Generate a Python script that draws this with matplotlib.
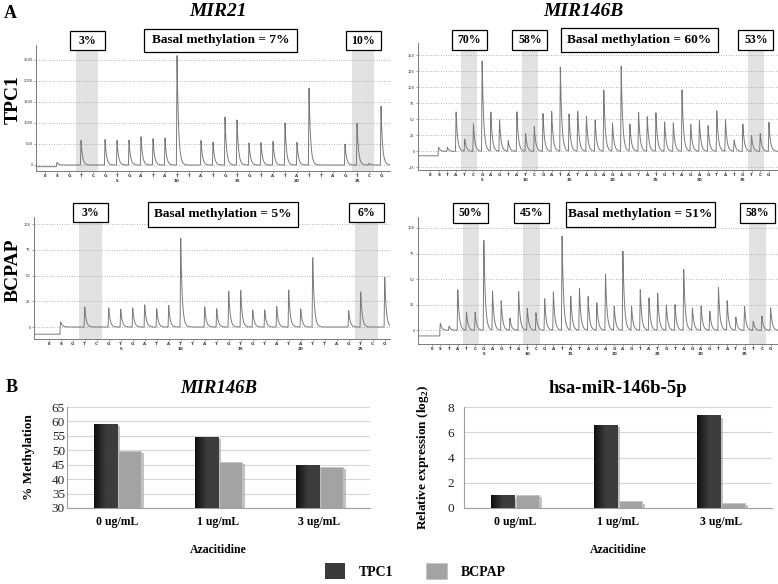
import numpy as np
import matplotlib
matplotlib.use('Agg')
import matplotlib.pyplot as plt
from matplotlib.patches import Rectangle
import matplotlib.patheffects as pe

W, H = 778, 584
SERIF = ['Liberation Serif', 'DejaVu Serif']
plt.rcParams['font.family'] = SERIF
plt.rcParams['mathtext.fontset'] = 'custom'
plt.rcParams['mathtext.rm'] = 'Liberation Serif'
plt.rcParams['mathtext.bf'] = 'Liberation Serif:bold'

# ---------------- data ----------------
mir21_disp = list("ESGTCGTGATATTATGTGTATATTAGTCG")
mir21_tpc1 = [0, 60, 0, 590, 0, 620, 590, 590, 685, 630, 645, 2650, 0, 590, 550,
              1140, 1090, 530, 530, 575, 1010, 535, 1870, 0, 0, 505, 1000, 40, 1420]
mir21_bcpap = [0, 5, 0, 19.8, 0, 18.8, 17.5, 19, 22, 18, 21, 87, 0, 20, 18,
               35, 36, 17, 17, 20, 36, 18, 69, 0, 0, 16, 35, 0, 49]
mir21_pre = {'TPC1': -40, 'BCPAP': -7}
mir21_cpg = [(3, 4), (26, 27)]
mir21_tpc1_cpg_pct = ['3%', '10%']
mir21_bcpap_cpg_pct = ['3%', '6%']
mir21_basal = {'TPC1': 'Basal methylation = 7%', 'BCPAP': 'Basal methylation = 5%'}

mir146b_disp = list("ESTATCGAGTATCGATATAGAGAGTATGTAGAGTATGTCG")
mir146b_tpc1 = [0, 6, 6, 63, 19, 43, 142, 62, 50, 17, 62, 28, 39, 60, 64, 133, 58, 63,
                56, 50, 97, 44, 134, 43, 62, 55, 60, 46, 45, 98, 43, 48, 40, 64, 50,
                18, 43, 25, 28, 46]
mir146b_bcpap = [0, 6.8, 4, 40, 18, 18, 89, 38, 29, 12, 38.6, 21.7, 17, 31, 38, 94, 34,
                 41, 33, 27, 56, 24, 78, 23, 40, 32, 37, 25, 25, 60, 22, 24, 19, 42,
                 29, 13, 24, 9, 14, 22]
mir146b_pre = {'TPC1': -7, 'BCPAP': -5.5}
mir146b_cpg = [(4, 5), (11, 12), (37, 38)]
mir146b_tpc1_cpg_pct = ['70%', '58%', '53%']
mir146b_bcpap_cpg_pct = ['50%', '45%', '58%']
mir146b_basal = {'TPC1': 'Basal methylation = 60%', 'BCPAP': 'Basal methylation = 51%'}

mir21_tpc1_yticks = [0, 500, 1000, 1500, 2000, 2500]
mir21_bcpap_yticks = [0, 25, 50, 75, 100]
mir146b_tpc1_yticks = [-25, 0, 25, 50, 75, 100, 125, 150]
mir146b_bcpap_yticks = [0, 25, 50, 75, 100]

conc = ['0 ug/mL', '1 ug/mL', '3 ug/mL']
meth_tpc1 = [59.0, 54.5, 44.8]
meth_bcpap = [49.7, 46.0, 44.3]
expr_tpc1 = [0.98, 6.56, 7.32]
expr_bcpap = [1.05, 0.52, 0.42]
series_names = ['TPC1', 'BCPAP']

# ---------------- figure ----------------
fig = plt.figure(figsize=(W / 100, H / 100), dpi=100)


def add_ax(l, t, r, b):
    return fig.add_axes([l / W, 1 - b / H, (r - l) / W, (b - t) / H])


def fig_box(l, t, r, b, text, size):
    fig.patches.append(Rectangle((l / W, 1 - b / H), (r - l) / W, (b - t) / H,
                                 transform=fig.transFigure, fc='white', ec='black',
                                 lw=0.9, zorder=10))
    fig.text((l + r) / 2 / W, 1 - (t + b) / 2 / H, text, ha='center', va='center',
             fontsize=size, fontweight='bold', zorder=11, family=SERIF)


def pyro(disp, heights, pre, yticks, rect, e_px, step, zero_py, upp,
         cpg, pct, basal, small_y, basal_box):
    l, t, r, b = rect
    ax = add_ax(l, t, r, b)
    x0 = (l - e_px) / step
    x1 = (r - e_px) / step
    y0 = -(b - zero_py) * upp
    y1 = (zero_py - t) * upp
    ax.set_xlim(x0, x1)
    ax.set_ylim(y0, y1)
    xs = np.linspace(x0, x1, 6000)
    tau = 1.5 / step
    rise = 0.6 / step
    ys = np.where(xs < 1 - rise, pre, 0.0)
    for i, h in enumerate(heights):
        d = xs - i
        shape = np.where(d < -rise, 0.0,
                         np.where(d < 0, (d + rise) / rise, np.exp(-np.clip(d, 0, None) / tau)))
        ys = ys + h * shape
    ax.plot(xs, ys, color='#7a7a7a', lw=0.7, zorder=3)
    for (i0, i1) in cpg:
        ax.axvspan(i0 - 0.45, i1 + 0.45, color='#e2e2e2', lw=0, zorder=0)
    for yt in yticks:
        ax.axhline(yt, color='#9a9a9a', lw=0.6, ls=(0, (1, 2)), zorder=1)
    for s in ['top', 'right']:
        ax.spines[s].set_visible(False)
    for s in ['left', 'bottom']:
        ax.spines[s].set_color('#7a7a7a')
        ax.spines[s].set_linewidth(0.7)
    ax.set_yticks(yticks)
    ax.set_yticklabels([str(v) for v in yticks], fontsize=2.6, family='DejaVu Sans',
                       color='#333')
    ax.tick_params(axis='y', length=1.5, width=0.5, pad=0.8, color='#7a7a7a')
    ax.set_xticks(range(len(disp)))
    ax.set_xticklabels(disp, fontsize=3, family='DejaVu Sans', fontweight='bold',
                       color='#333')
    ax.tick_params(axis='x', length=1.5, width=0.5, pad=0.8, color='#7a7a7a')
    for n in range(5, len(disp), 5):
        idx = n + 1
        if idx < len(disp):
            ax.annotate(str(n), xy=(idx, 0), xycoords=('data', 'axes fraction'),
                        xytext=(0, -8), textcoords='offset pixels', ha='center',
                        va='top', fontsize=3, family='DejaVu Sans',
                        fontweight='bold', color='#333')
    st, sb = small_y
    for (i0, i1), p in zip(cpg, pct):
        cx = e_px + step * (i0 + i1) / 2
        fig_box(cx - 17.5, st, cx + 17.5, sb, p, 8.5)
    bl, bt, br, bb = basal_box
    fig_box(bl, bt, br, bb, basal, 9.6)
    return ax


pyro(mir21_disp, mir21_tpc1, mir21_pre['TPC1'], mir21_tpc1_yticks,
     (36, 45, 390, 171), 45, 12.0, 165, 500 / 21.1,
     mir21_cpg, mir21_tpc1_cpg_pct, mir21_basal['TPC1'], (31, 50), (144, 29, 297, 52))
pyro(mir21_disp, mir21_bcpap, mir21_pre['BCPAP'], mir21_bcpap_yticks,
     (34, 217, 390, 339), 48.7, 12.0, 327, 25 / 25.7,
     mir21_cpg, mir21_bcpap_cpg_pct, mir21_basal['BCPAP'], (203, 222), (148, 202, 298, 227))
pyro(mir146b_disp, mir146b_tpc1, mir146b_pre['TPC1'], mir146b_tpc1_yticks,
     (418, 43, 778, 170), 430, 8.69, 151.3, 25 / 16.0,
     mir146b_cpg, mir146b_tpc1_cpg_pct, mir146b_basal['TPC1'], (30, 50), (561, 28, 718, 52))
pyro(mir146b_disp, mir146b_bcpap, mir146b_pre['BCPAP'], mir146b_bcpap_yticks,
     (418, 217, 778, 344), 431.7, 8.69, 330.3, 25 / 25.6,
     mir146b_cpg, mir146b_bcpap_cpg_pct, mir146b_basal['BCPAP'], (203, 223), (566, 202, 715, 227))

# labels for section A
fig.text(10 / W, 1 - 14 / H, 'A', fontsize=13, fontweight='bold', ha='center', va='center')
fig.text(12 / W, 1 - 388 / H, 'B', fontsize=13, fontweight='bold', ha='center', va='center')
fig.text(218 / W, 1 - 12 / H, 'MIR21', fontsize=14, fontweight='bold', style='italic',
         ha='center', va='center')
fig.text(583 / W, 1 - 12 / H, 'MIR146B', fontsize=14, fontweight='bold', style='italic',
         ha='center', va='center')
fig.text(13 / W, 1 - 100 / H, 'TPC1', fontsize=14, fontweight='bold', rotation=90,
         ha='center', va='center')
fig.text(13 / W, 1 - 270 / H, 'BCPAP', fontsize=14, fontweight='bold', rotation=90,
         ha='center', va='center')

# ---------------- bar charts ----------------
TPC_COLOR = '#3a3a3a'
BC_COLOR = '#a3a3a3'


def barchart(rect, tpc, bc, ylim, ystep, title, italic, ylabel, ypad, ylabelpad):
    ax = add_ax(*rect)
    x = np.arange(len(conc))
    w = 0.23
    shadow = [pe.SimplePatchShadow(offset=(2, -1.5), shadow_rgbFace='#9a9a9a', alpha=0.6),
              pe.Normal()]
    b1 = ax.bar(x - w / 2 - 0.005, tpc, w, color=TPC_COLOR, zorder=3, label=series_names[0])
    b2 = ax.bar(x + w / 2 + 0.005, bc, w, color=BC_COLOR, edgecolor='#c4c4c4', lw=0.6,
                zorder=3, label=series_names[1])
    for p in list(b1) + list(b2):
        p.set_path_effects(shadow)
    ax.set_xlim(-0.5, len(conc) - 0.5)
    ax.set_ylim(*ylim)
    grad = np.clip(np.linspace(0, 1, 60) / 0.5, 0, 1)
    grad = (0.06 + 0.18 * grad)[None, :]
    for p in b1:
        px, py, pw, ph = p.get_x(), p.get_y(), p.get_width(), p.get_height()
        bottom = max(py, ylim[0])
        ax.imshow(grad, extent=(px, px + pw, bottom, py + ph), aspect='auto',
                  cmap='gray', vmin=0, vmax=1, zorder=4, interpolation='bilinear')
    ax.set_xlim(-0.5, len(conc) - 0.5)
    ax.set_ylim(*ylim)
    ax.set_yticks(np.arange(ylim[0], ylim[1] + 0.01, ystep))
    ax.yaxis.grid(True, color='#d6d6d6', lw=0.8, zorder=0)
    ax.set_axisbelow(True)
    for s in ['top', 'right']:
        ax.spines[s].set_visible(False)
    for s in ['left', 'bottom']:
        ax.spines[s].set_color('#a0a0a0')
        ax.spines[s].set_linewidth(0.8)
    ax.tick_params(axis='y', length=0, labelsize=9.5, pad=ypad, labelcolor='#222')
    ax.set_xticks(x)
    ax.set_xticklabels(conc, fontsize=8.5, fontweight='bold')
    ax.tick_params(axis='x', length=0, pad=6)
    ax.set_xlabel('Azacitidine', fontsize=8.5, fontweight='bold', labelpad=11)
    ax.set_ylabel(ylabel, fontsize=9.5, fontweight='bold', labelpad=ylabelpad)
    ax.set_title(title, fontsize=13.5, fontweight='bold',
                 style='italic' if italic else 'normal', pad=10)
    return ax, b1, b2


ax1, h1, h2 = barchart((67, 407, 370, 508), meth_tpc1, meth_bcpap, (30, 65), 5,
                       'MIR146B', True, '% Methylation', 1.5, 12)
ax2, _, _ = barchart((464, 407, 772, 508), expr_tpc1, expr_bcpap, (0, 8), 2,
                     'hsa-miR-146b-5p', False, r'Relative expression (log$_{\mathbf{2}}$)', 7, 12)

leg = fig.legend(handles=[h1[0], h2[0]], labels=series_names, loc='center',
                 bbox_to_anchor=(415 / W, 1 - 571 / H), ncol=2, frameon=False,
                 handlelength=1.45, handleheight=1.45, handletextpad=1.0,
                 columnspacing=2.4, prop={'family': SERIF, 'weight': 'bold', 'size': 10})
for hnd in leg.legend_handles:
    hnd.set_path_effects([])

fig.savefig('out.png', dpi=100)
